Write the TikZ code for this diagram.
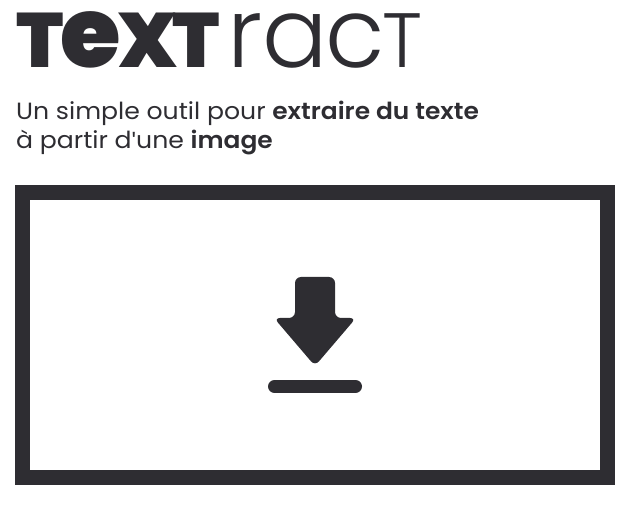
\documentclass[tikz,border=0pt]{standalone}
\usepackage{fontspec}
\setmainfont{Poppins}[FakeStretch=1.07,BoldFont={Poppins SemiBold},BoldFeatures={FakeStretch=1.06}]
\newfontfamily\heavyfont{Poppins Black}
\newfontfamily\lightfont{Poppins Light}
\newfontfamily\quotefont{Liberation Sans}
\definecolor{inkdark}{HTML}{2E2D32}
\tikzset{
  logo/.style={anchor=base west,inner sep=0pt,text=inkdark},
  slogan/.style={anchor=base west,inner sep=0pt,text=inkdark,font=\fontsize{23.5}{29}\selectfont},
}
\begin{document}
\begin{tikzpicture}[x=1pt,y=-1pt]
  \useasboundingbox (0,0) rectangle (630,505);

  \node (logoA) at (16,68) [logo]
    {\heavyfont\fontsize{77}{77}\selectfont T\kern-3pt\fontsize{98}{98}\selectfont e\kern-3pt\fontsize{77}{77}\selectfont X\kern-4pt T};
  \node (logoB) at (227,68) [logo]
    {\lightfont\fontsize{97}{97}\selectfont ra\kern-2pt c\kern-3pt\fontsize{77}{77}\selectfont T};

  \node (lineA) at (16,120) [slogan] {Un simple outil pour \textbf{extraire du texte}};
  \node (lineB) at (16,149) [slogan] {à partir d{\quotefont\symbol{39}}une \textbf{image}};

  \draw [inkdark,line width=15pt] (22.5,192.5) rectangle (607.5,477.5);

  \fill [inkdark,rounded corners=6pt]
    (295,277) -- (335,277) -- (335,318) -- (356,318) -- (315,366) -- (274,318) -- (295,318) -- cycle;
  \draw [inkdark,line width=13pt,line cap=round] (274.5,386.5) -- (355.5,386.5);
\end{tikzpicture}
\end{document}
